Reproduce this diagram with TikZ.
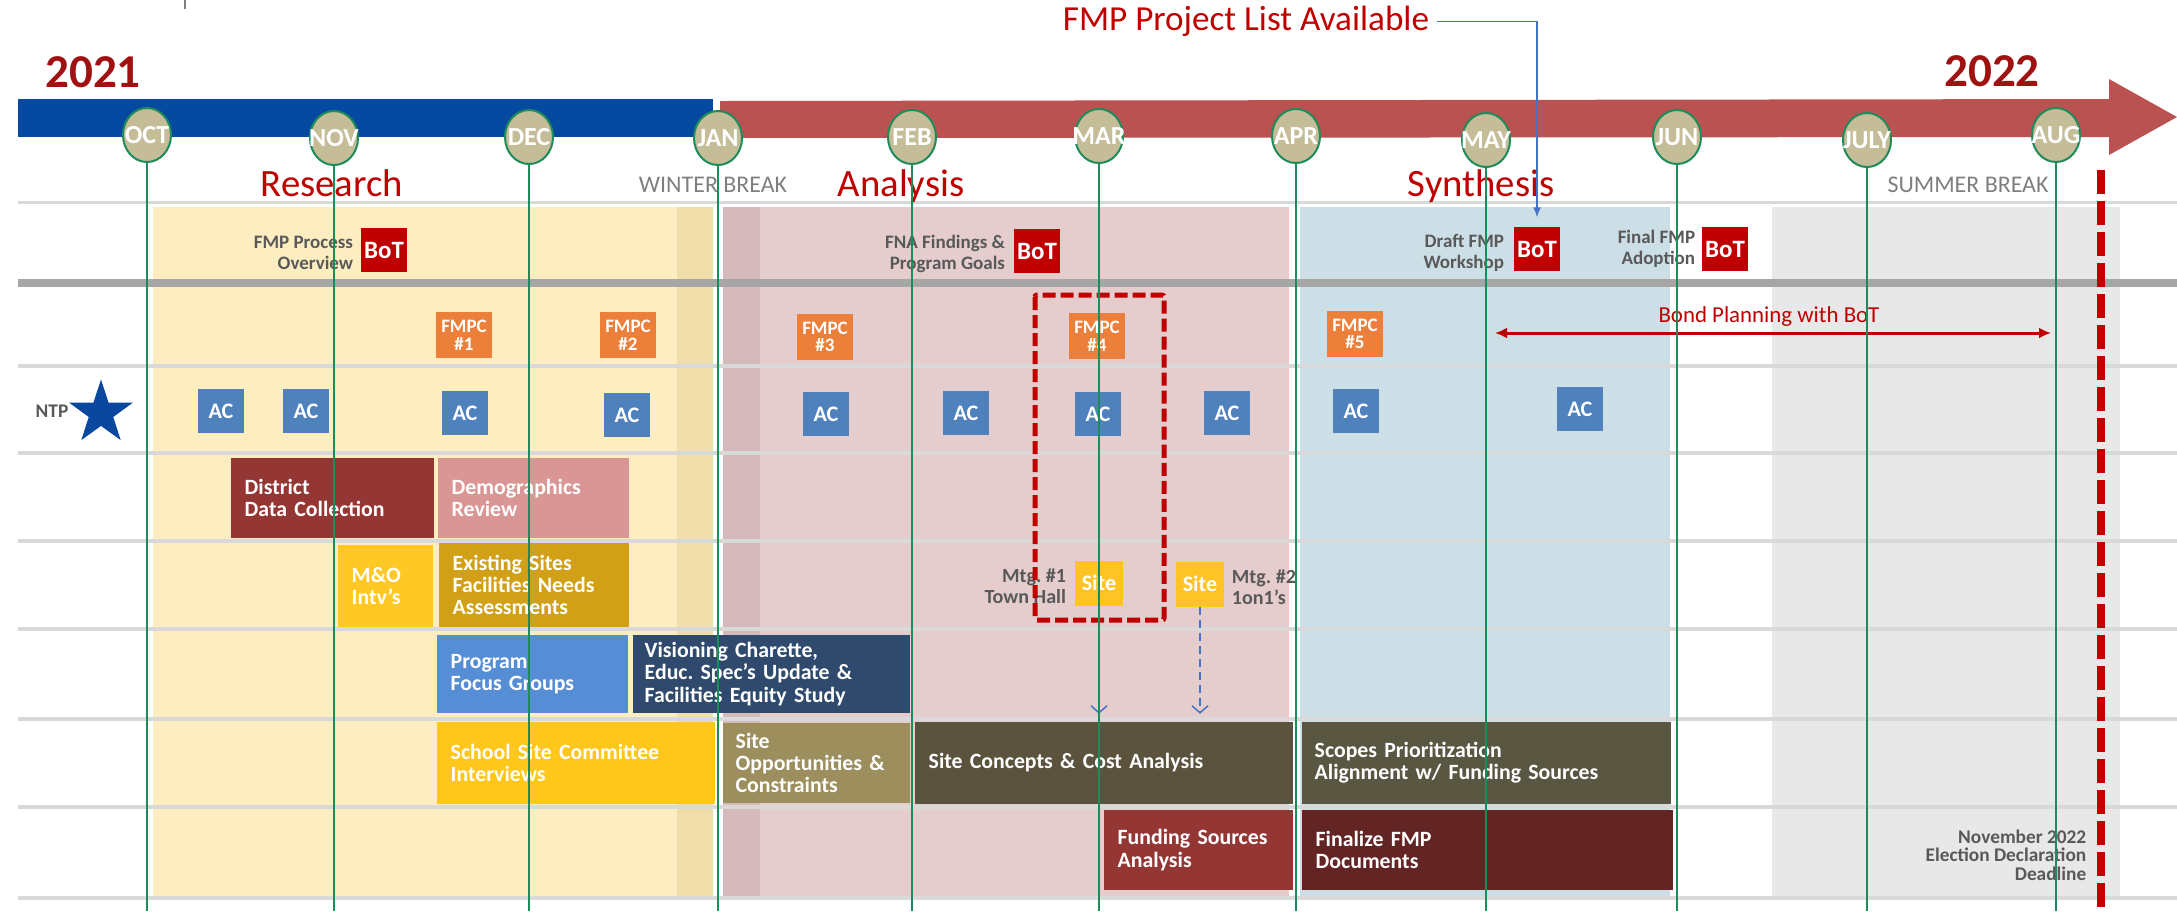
\documentclass[tikz,border=0pt]{standalone}
\usepackage{fontspec}
\setmainfont{Carlito}
\frenchspacing
\usetikzlibrary{positioning,shapes.geometric,arrows.meta}

\definecolor{barblue}{RGB}{5,74,160}
\definecolor{barred}{RGB}{185,82,80}
\definecolor{yearred}{RGB}{160,18,18}
\definecolor{phasered}{RGB}{192,0,0}
\definecolor{botred}{RGB}{192,0,0}
\definecolor{monthfill}{RGB}{196,189,151}
\definecolor{monthgreen}{RGB}{30,140,90}
\definecolor{sepgray}{RGB}{217,217,217}
\definecolor{bandgray}{RGB}{166,166,166}
\definecolor{notegray}{RGB}{89,89,89}
\definecolor{breakgray}{RGB}{127,127,127}
\definecolor{bgyellow}{RGB}{254,237,192}
\definecolor{bgtan}{RGB}{239,222,170}
\definecolor{bgpink}{RGB}{229,205,206}
\definecolor{bgpinkdark}{RGB}{212,186,187}
\definecolor{bgblue}{RGB}{204,223,230}
\definecolor{bggray}{RGB}{232,232,232}
\definecolor{fmpcorange}{RGB}{236,128,58}
\definecolor{acblue}{RGB}{79,129,189}
\definecolor{siteyellow}{RGB}{255,195,37}
\definecolor{starblue}{RGB}{10,72,160}
\definecolor{linkblue}{RGB}{68,114,196}
\definecolor{actdistrict}{RGB}{148,54,52}
\definecolor{actdemo}{RGB}{217,150,148}
\definecolor{actmo}{RGB}{255,200,37}
\definecolor{actexist}{RGB}{209,160,22}
\definecolor{actprogram}{RGB}{85,142,213}
\definecolor{actvision}{RGB}{47,74,109}
\definecolor{actschool}{RGB}{255,198,28}
\definecolor{actsiteopp}{RGB}{156,143,93}
\definecolor{actconcept}{RGB}{92,83,63}
\definecolor{actscope}{RGB}{89,87,66}
\definecolor{actfunding}{RGB}{148,54,52}
\definecolor{actfinal}{RGB}{99,37,35}

\tikzset{
  month/.style = {ellipse, fill=monthfill, draw=monthgreen, line width=0.02cm,
                  minimum width=0.48cm, minimum height=0.54cm, inner sep=0pt,
                  label={[text=white, inner sep=0pt,
                          font=\fontsize{7.4}{8}\selectfont\bfseries]center:#1}},
  mline/.style = {draw=monthgreen, line width=0.02cm},
  sep/.style = {draw=sepgray, line width=0.035cm},
  act/.style = {rectangle, fill=#1, anchor=west, inner xsep=0.14cm, inner ysep=0pt,
                align=left, text=white, font=\fontsize{6.2}{6.3}\selectfont\bfseries},
  bot/.style = {rectangle, fill=botred, text=white, minimum width=0.45cm,
                minimum height=0.44cm, inner sep=0pt,
                font=\fontsize{7.1}{8}\selectfont\bfseries},
  fmpc/.style = {rectangle, fill=fmpcorange, text=white, minimum width=0.56cm,
                 minimum height=0.45cm, inner sep=0pt, align=center,
                 font=\fontsize{5.4}{5}\selectfont\bfseries},
  acbox/.style = {rectangle, fill=acblue, text=white, minimum width=0.46cm,
                  minimum height=0.44cm, inner sep=0pt,
                  font=\fontsize{6.3}{7}\selectfont\bfseries},
  sitebox/.style = {rectangle, fill=siteyellow, text=white, minimum width=0.47cm,
                    minimum height=0.45cm, inner sep=0pt,
                    font=\fontsize{6.3}{7}\selectfont\bfseries},
  note/.style = {inner sep=0pt, text=notegray, font=\fontsize{5.4}{6}\selectfont\bfseries},
  phase/.style = {anchor=base, inner sep=0pt, text=phasered, font=\fontsize{11}{12}\selectfont},
  brk/.style = {anchor=base, inner sep=0pt, text=breakgray, font=\fontsize{6.8}{8}\selectfont},
  link/.style = {draw=linkblue, line width=0.015cm}
}

\begin{document}
\begin{tikzpicture}[x=0.01cm, y=-0.01cm]
	\useasboundingbox (0,0) rectangle (2177,911);
	\def\ytop{207}
	\def\ybot{897}

	% Month positions
	\coordinate (m-oct) at (147,135);
	\coordinate (m-nov) at (334,138);
	\coordinate (m-dec) at (529,137);
	\coordinate (m-jan) at (718,138);
	\coordinate (m-feb) at (912,137);
	\coordinate (m-mar) at (1099,136);
	\coordinate (m-apr) at (1296,136);
	\coordinate (m-may) at (1486,140);
	\coordinate (m-jun) at (1677,137);
	\coordinate (m-jul) at (1867,140);
	\coordinate (m-aug) at (2056,135);
	\coordinate (bottom) at (0,911);

	% Phase backgrounds
	\fill[bgyellow] (153,\ytop) rectangle (713,\ybot);       % research
	\fill[bgtan] (677,\ytop) rectangle (713,\ybot);          % winter break
	\fill[bgpink] (723,\ytop) rectangle (1289,\ybot);        % analysis
	\fill[bgpinkdark] (723,\ytop) rectangle (760,\ybot);
	\fill[bgblue] (1300,\ytop) rectangle (1670,\ybot);       % synthesis
	\fill[bggray] (1772,\ytop) rectangle (2120,\ybot);       % summer break

	% Row separators
	\draw[sep, line width=0.03cm] (18,202) -- (2177,202);
	\draw[draw=bandgray, line width=0.08cm] (18,283) -- (2177,283);
	\draw[sep] (18,366) -- (2177,366);
	\draw[sep] (18,453) -- (2177,453);
	\draw[sep] (18,541) -- (2177,541);
	\draw[sep] (18,629) -- (2177,629);
	\draw[sep] (18,719) -- (2177,719);
	\draw[sep] (18,807) -- (2177,807);
	\draw[sep] (18,898) -- (2177,898);

	% Timeline bar
	\draw[breakgray, line width=0.02cm] (185,0) -- (185,9);
	\fill[barblue] (18,99) rectangle (713,137);
	\fill[barred] (720,101) -- (2109,99) -- (2109,79) -- (2177,117)
	              -- (2109,155) -- (2109,137) -- (720,138) -- cycle;

	% Years and phases
	\node[anchor=base, inner sep=0pt, text=yearred, font=\fontsize{13.4}{14}\selectfont\bfseries] (y2021) at (93,87) {2021};
	\node[anchor=base, inner sep=0pt, text=yearred, font=\fontsize{13.4}{14}\selectfont\bfseries] (y2022) at (1992,86) {2022};
	\node[anchor=base, inner sep=2pt, text=phasered, font=\fontsize{10}{12}\selectfont] (projlist) at (1246,30) {FMP Project List Available};
	\node[phase] (research) at (332,196) {Research};
	\node[phase] (analysis) at (901,196) {Analysis};
	\node[phase] (synthesis) at (1481,196) {Synthesis};
	\node[brk] (winter) at (713,192) {WINTER BREAK};
	\node[brk] (summer) at (1968,192) {SUMMER BREAK};

	% Board of Trustees
	\node[bot] (bot1) at (384,250) {BoT};
	\node[bot] (bot2) at (1037,251) {BoT};
	\node[bot] (bot3) at (1537,249) {BoT};
	\node[bot] (bot4) at (1725,249) {BoT};
	\node[note, align=right, left=0.07cm of bot1, yshift=-0.03cm] (bot1-txt) {FMP Process\\Overview};
	\node[note, align=right, left=0.08cm of bot2, yshift=-0.03cm] (bot2-txt) {FNA Findings \&\\Program Goals};
	\node[note, align=right, left=0.09cm of bot3, yshift=-0.04cm] (bot3-txt) {Draft FMP\\Workshop};
	\node[note, align=right, left=0.06cm of bot4] (bot4-txt) {Final FMP\\Adoption};

	% FMPC meetings
	\node[fmpc] (fmpc1) at (464,335) {FMPC\\\#1};
	\node[fmpc] (fmpc2) at (628,335) {FMPC\\\#2};
	\node[fmpc] (fmpc3) at (825,337) {FMPC\\\#3};
	\node[fmpc] (fmpc4) at (1097,336) {FMPC\\\#4};
	\node[fmpc] (fmpc5) at (1355,334) {FMPC\\\#5};
	\node[anchor=base, inner sep=0pt, text=botred, font=\fontsize{6.5}{8}\selectfont] (bond) at (1769,322) {Bond Planning with BoT};
	\coordinate (bond-l) at (1495,333);
	\coordinate (bond-r) at (2051,333);

	% Advisory committee
	\node[star, star points=5, star point ratio=2.6, fill=starblue, inner sep=0pt, minimum size=0.67cm] (ntpstar) at (101,413) {};
	\node[note, anchor=east, font=\fontsize{5.5}{6}\selectfont\bfseries] (ntp) at (69,411) {NTP};
	\node[acbox] (ac1) at (221,411) {AC};
	\node[acbox] (ac2) at (306,411) {AC};
	\node[acbox] (ac3) at (465,413) {AC};
	\node[acbox] (ac4) at (627,415) {AC};
	\node[acbox] (ac5) at (826,414) {AC};
	\node[acbox] (ac6) at (966,413) {AC};
	\node[acbox] (ac7) at (1098,414) {AC};
	\node[acbox] (ac8) at (1227,413) {AC};
	\node[acbox] (ac9) at (1356,411) {AC};
	\node[acbox] (ac10) at (1580,409) {AC};

	% Activities
	\node[act=actdistrict, minimum height=0.80cm, text width=1.75cm] (district) at (230,498) {District\\Data Collection};
	\node[act=actdemo, minimum height=0.80cm, text width=1.63cm] (demo) at (437,498) {Demographics\\Review};
	\node[act=actmo, minimum height=0.81cm, text width=0.67cm] (mointv) at (337,586) {M\&O\\Intv’s};
	\node[act=actexist, minimum height=0.83cm, text width=1.62cm] (exist) at (438,585) {Existing Sites\\Facilities Needs\\Assessments};
	\node[act=actprogram, minimum height=0.77cm, text width=1.63cm] (program) at (436,674) {Program\\Focus Groups\\[0.07cm]};
	\node[act=actvision, inner xsep=0.12cm, minimum height=0.77cm, text width=2.53cm] (vision) at (632,674) {Visioning Charette,\\Educ. Spec’s Update \&\\Facilities Equity Study};
	\node[act=actschool, minimum height=0.81cm, text width=2.50cm] (school) at (436,763) {School Site Committee\\Interviews};
	\node[act=actsiteopp, inner xsep=0.13cm, minimum height=0.80cm, text width=1.61cm] (siteopp) at (722,763) {Site\\Opportunities \&\\Constraints};
	\node[act=actconcept, minimum height=0.81cm, text width=3.50cm] (sconcepts) at (914,763) {Site Concepts \& Cost Analysis};
	\node[act=actscope, inner xsep=0.13cm, minimum height=0.81cm, text width=3.43cm] (scopes) at (1301,763) {Scopes Prioritization\\Alignment w/ Funding Sources};
	\node[act=actfunding, minimum height=0.79cm, text width=1.61cm] (funding) at (1103,850) {Funding Sources\\Analysis};
	\node[act=actfinal, minimum height=0.79cm, text width=3.43cm] (finalize) at (1301,850) {Finalize FMP\\Documents};

	% Site meetings
	\node[sitebox] (site1) at (1099,583) {Site};
	\node[sitebox] (site2) at (1200,584) {Site};
	\node[note, align=right, left=0.08cm of site1, yshift=-0.035cm, font=\fontsize{5.7}{6}\selectfont\bfseries] (mtg1) {Mtg. \#1\\Town Hall};
	\node[note, align=left, right=0.07cm of site2, yshift=-0.03cm, font=\fontsize{5.7}{6}\selectfont\bfseries] (mtg2) {Mtg. \#2\\1on1’s};

	% Deadline
	\node[note, anchor=east, align=right, font=\fontsize{5.5}{5.3}\selectfont\bfseries] (election) at (2087,855) {November 2022\\Election Declaration\\Deadline};
	\draw[botred, line width=0.08cm, dash pattern=on 0.24cm off 0.07cm] (2101,170) -- (2101,911);
	\draw[botred, line width=0.05cm, dash pattern=on 0.13cm off 0.05cm, rounded corners=0.02cm] (1035,295) rectangle (1164,620);

	% Connectors
	\draw[link, -{Latex[length=0.1cm, width=0.08cm]}, shorten >=0.09cm] (projlist.mid east) -| (bot3.north);
	\draw[botred, line width=0.03cm, {Latex[length=0.12cm, width=0.11cm]}-{Latex[length=0.12cm, width=0.11cm]}] (bond-l) -- (bond-r);
	\draw[link, -{Straight Barb[length=0.07cm, width=0.16cm]}, shorten >=0.08cm] (site1) -- (site1 |- sconcepts.north);
	\draw[link, dash pattern=on 0.08cm off 0.05cm, -{Straight Barb[length=0.07cm, width=0.16cm]}, shorten >=0.08cm] (site2) -- (site2 |- sconcepts.north);

	% Month lines
	\draw[mline] (m-oct) -- (m-oct |- bottom);
	\draw[mline] (m-nov) -- (m-nov |- bottom);
	\draw[mline] (m-dec) -- (m-dec |- bottom);
	\draw[mline] (m-jan) -- (m-jan |- bottom);
	\draw[mline] (m-feb) -- (m-feb |- bottom);
	\draw[mline] (m-mar) -- (m-mar |- bottom);
	\draw[mline] (m-apr) -- (m-apr |- bottom);
	\draw[mline] (m-may) -- (m-may |- bottom);
	\draw[mline] (m-jun) -- (m-jun |- bottom);
	\draw[mline] (m-jul) -- (m-jul |- bottom);
	\draw[mline] (m-aug) -- (m-aug |- bottom);

	% Months
	\node[month=OCT] (oct) at (m-oct) {};
	\node[month=NOV] (nov) at (m-nov) {};
	\node[month=DEC] (dec) at (m-dec) {};
	\node[month=JAN] (jan) at (m-jan) {};
	\node[month=FEB] (feb) at (m-feb) {};
	\node[month=MAR] (mar) at (m-mar) {};
	\node[month=APR] (apr) at (m-apr) {};
	\node[month=MAY] (may) at (m-may) {};
	\node[month=JUN] (jun) at (m-jun) {};
	\node[month=JULY] (jul) at (m-jul) {};
	\node[month=AUG] (aug) at (m-aug) {};
\end{tikzpicture}
\end{document}
